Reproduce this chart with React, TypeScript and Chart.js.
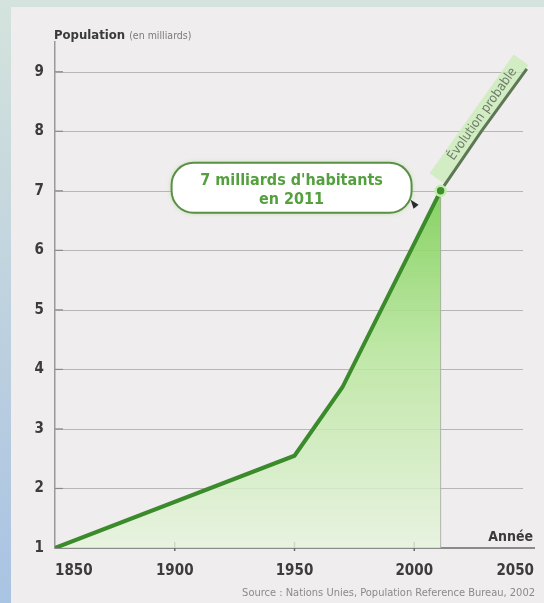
import React, { useEffect, useRef } from 'react';
import { Chart, registerables } from 'chart.js';

Chart.register(...registerables);

// ---- data ----
const histYears = [1850, 1950, 1970, 2011];
const histPop = [1, 2.55, 3.7, 7];
const projYears = [2011, 2028, 2047];
const projPop = [7, 8, 9.05];
const markerYear = [2011];
const markerPop = [7];
const xTicks = [1850, 1900, 1950, 2000, 2050];
const yTicks = [1, 2, 3, 4, 5, 6, 7, 8, 9];
const annotationLines = ["7 milliards d'habitants", 'en 2011'];
const yTitle = 'Population';
const yTitleUnit = '(en milliards)';
const xTitle = 'Année';
const sourceText = 'Source : Nations Unies, Population Reference Bureau, 2002';
const projLabel = 'Évolution probable';

const FONT = "'DejaVu Sans Condensed', 'DejaVu Sans', sans-serif";

const decor = {
  id: 'decor',
  beforeDatasetsDraw(chart: any) {
    const { ctx, chartArea, scales } = chart;
    const x = scales.x;
    const y = scales.y;
    ctx.save();
    // horizontal grid lines (stop a little before the right end)
    ctx.strokeStyle = '#b6b6b6';
    ctx.lineWidth = 1;
    yTicks.slice(1).forEach((v) => {
      const py = Math.round(y.getPixelForValue(v)) + 0.5;
      ctx.beginPath();
      ctx.moveTo(chartArea.left, py);
      ctx.lineTo(chartArea.right - 11, py);
      ctx.stroke();
    });
    // small y ticks inside the axis
    ctx.strokeStyle = '#8a8a8a';
    ctx.lineWidth = 1.2;
    yTicks.slice(1).forEach((v) => {
      const py = y.getPixelForValue(v);
      ctx.beginPath();
      ctx.moveTo(chartArea.left, py);
      ctx.lineTo(chartArea.left + 8, py);
      ctx.stroke();
    });
    // small x ticks crossing the axis
    ctx.strokeStyle = '#6a6a6a';
    ctx.lineWidth = 1.5;
    xTicks.slice(1, -1).forEach((v) => {
      const px = x.getPixelForValue(v);
      ctx.beginPath();
      ctx.moveTo(px, chartArea.bottom - 6);
      ctx.lineTo(px, chartArea.bottom + 3);
      ctx.stroke();
    });
    // vertical drop line at marker
    const mx = x.getPixelForValue(markerYear[0]);
    const my = y.getPixelForValue(markerPop[0]);
    ctx.strokeStyle = '#a2a2a2';
    ctx.lineWidth = 1;
    ctx.beginPath();
    ctx.moveTo(mx, my);
    ctx.lineTo(mx, chartArea.bottom);
    ctx.stroke();
    // band + label along projection
    const n = projYears.length - 1;
    const p0x = x.getPixelForValue(projYears[0]);
    const p0y = y.getPixelForValue(projPop[0]);
    const p1x = x.getPixelForValue(projYears[n]);
    const p1y = y.getPixelForValue(projPop[n]);
    const ang = Math.atan2(p1y - p0y, p1x - p0x);
    const len = Math.hypot(p1x - p0x, p1y - p0y);
    ctx.translate(p0x, p0y);
    ctx.rotate(ang);
    ctx.fillStyle = 'rgba(200,236,182,0.75)';
    ctx.fillRect(8, -19, len - 4, 18);
    ctx.fillStyle = '#6f7b6a';
    ctx.font = `13px ${FONT}`;
    ctx.textAlign = 'center';
    ctx.textBaseline = 'middle';
    ctx.fillText(projLabel, len * 0.58, -10);
    ctx.restore();
  },
  afterDraw(chart: any) {
    const { ctx, chartArea, scales } = chart;
    const x = scales.x;
    const y = scales.y;
    ctx.save();
    // y title
    ctx.textBaseline = 'alphabetic';
    ctx.textAlign = 'left';
    ctx.fillStyle = '#3a3a3a';
    ctx.font = `bold 13px ${FONT}`;
    ctx.fillText(yTitle, chartArea.left - 1, chartArea.top - 3);
    const w = ctx.measureText(yTitle).width;
    ctx.fillStyle = '#7a7a7a';
    ctx.font = `10.5px ${FONT}`;
    ctx.fillText(yTitleUnit, chartArea.left - 1 + w + 4, chartArea.top - 3);
    // x title
    ctx.textAlign = 'right';
    ctx.fillStyle = '#3a3a3a';
    ctx.font = `bold 14px ${FONT}`;
    ctx.fillText(xTitle, chartArea.right - 1, chartArea.bottom - 7);
    // source
    ctx.fillStyle = '#8a8a8a';
    ctx.font = `11px ${FONT}`;
    ctx.fillText(sourceText, chartArea.right + 1, chartArea.bottom + 48);
    // annotation box
    const mx = x.getPixelForValue(markerYear[0]);
    const my = y.getPixelForValue(markerPop[0]);
    const bw = 240;
    const bh = 50;
    const bx = mx - 29 - bw;
    const by = my - 28;
    ctx.shadowColor = 'rgba(150,215,120,0.8)';
    ctx.shadowBlur = 4;
    ctx.fillStyle = '#ffffff';
    ctx.strokeStyle = '#5b8f47';
    ctx.lineWidth = 2;
    ctx.beginPath();
    (ctx as any).roundRect(bx, by, bw, bh, 22);
    ctx.fill();
    ctx.shadowBlur = 0;
    ctx.shadowColor = 'transparent';
    ctx.stroke();
    ctx.fillStyle = '#54a03e';
    ctx.font = `bold 16px ${FONT}`;
    ctx.textAlign = 'center';
    ctx.textBaseline = 'middle';
    ctx.fillText(annotationLines[0], bx + bw / 2, by + 18);
    ctx.fillText(annotationLines[1], bx + bw / 2, by + 37);
    // small dark pointer
    ctx.fillStyle = '#2a2a2a';
    ctx.beginPath();
    ctx.moveTo(mx - 30, my + 9);
    ctx.lineTo(mx - 22, my + 14);
    ctx.lineTo(mx - 27, my + 18);
    ctx.closePath();
    ctx.fill();
    ctx.restore();
  },
};

export default function App() {
  const ref = useRef<HTMLCanvasElement | null>(null);

  useEffect(() => {
    if (!ref.current) return;
    const chart = new Chart(ref.current, {
      type: 'line',
      data: {
        datasets: [
          {
            label: 'marker',
            data: markerYear.map((yr, i) => ({ x: yr, y: markerPop[i] })),
            showLine: false,
            pointRadius: 5,
            pointBackgroundColor: '#3f8f2f',
            pointBorderColor: '#c2eeab',
            pointBorderWidth: 2.5,
            order: 0,
          },
          {
            label: 'historique',
            data: histYears.map((yr, i) => ({ x: yr, y: histPop[i] })),
            borderColor: '#3b8a2c',
            borderWidth: 4,
            pointRadius: 0,
            tension: 0,
            fill: 'start',
            backgroundColor: (c: any) => {
              const ch = c.chart;
              const area = ch.chartArea;
              if (!area) return 'rgba(150,210,120,0.5)';
              const top = ch.scales.y.getPixelForValue(7);
              const g = ch.ctx.createLinearGradient(0, top, 0, area.bottom);
              g.addColorStop(0, 'rgba(128,208,90,0.95)');
              g.addColorStop(0.45, 'rgba(182,230,154,0.85)');
              g.addColorStop(1, 'rgba(230,243,220,0.8)');
              return g;
            },
            order: 1,
          },
          {
            label: 'projection',
            data: projYears.map((yr, i) => ({ x: yr, y: projPop[i] })),
            borderColor: '#5e7857',
            borderWidth: 3,
            pointRadius: 0,
            tension: 0,
            fill: false,
            order: 2,
          },
        ],
      },
      options: {
        responsive: false,
        animation: false,
        layout: { padding: { left: 0, right: 10, top: 42, bottom: 0 } },
        plugins: { legend: { display: false }, tooltip: { enabled: false } },
        scales: {
          x: {
            type: 'linear',
            min: 1850,
            max: 2050,
            afterFit: (s: any) => {
              s.height = 55;
            },
            afterBuildTicks: (s: any) => {
              s.ticks = xTicks.map((v) => ({ value: v }));
            },
            ticks: {
              stepSize: 50,
              align: 'inner',
              padding: 6,
              color: '#3c3c3c',
              font: { family: FONT, size: 15, weight: 'bold' },
              callback: (v: any) => String(v),
            },
            grid: { display: false },
            border: { display: true, color: '#8a8a8a', width: 2 },
          },
          y: {
            type: 'linear',
            min: 1,
            max: 9.5,
            afterFit: (s: any) => {
              s.width = 55;
            },
            afterBuildTicks: (s: any) => {
              s.ticks = yTicks.map((v) => ({ value: v }));
            },
            ticks: {
              stepSize: 1,
              padding: 11,
              color: '#3c3c3c',
              font: { family: FONT, size: 15, weight: 'bold' },
            },
            grid: { display: false, drawTicks: false },
            border: { display: true, color: '#9a9a9a', width: 1.5 },
          },
        },
      },
      plugins: [decor],
    } as any);
    return () => chart.destroy();
  }, []);

  return (
    <div
      style={{
        position: 'fixed',
        left: 0,
        top: 0,
        width: 544,
        height: 603,
        overflow: 'hidden',
        background: 'linear-gradient(180deg, #d4e3dc 0%, #bdd0df 55%, #a9c3e3 100%)',
      }}
    >
      <div
        style={{
          position: 'absolute',
          left: 11,
          top: 7,
          right: 0,
          bottom: 0,
          background: '#efeded',
        }}
      />
      <canvas
        ref={ref}
        width={544}
        height={603}
        style={{ position: 'absolute', left: 0, top: 0, width: 544, height: 603 }}
      />
    </div>
  );
}
